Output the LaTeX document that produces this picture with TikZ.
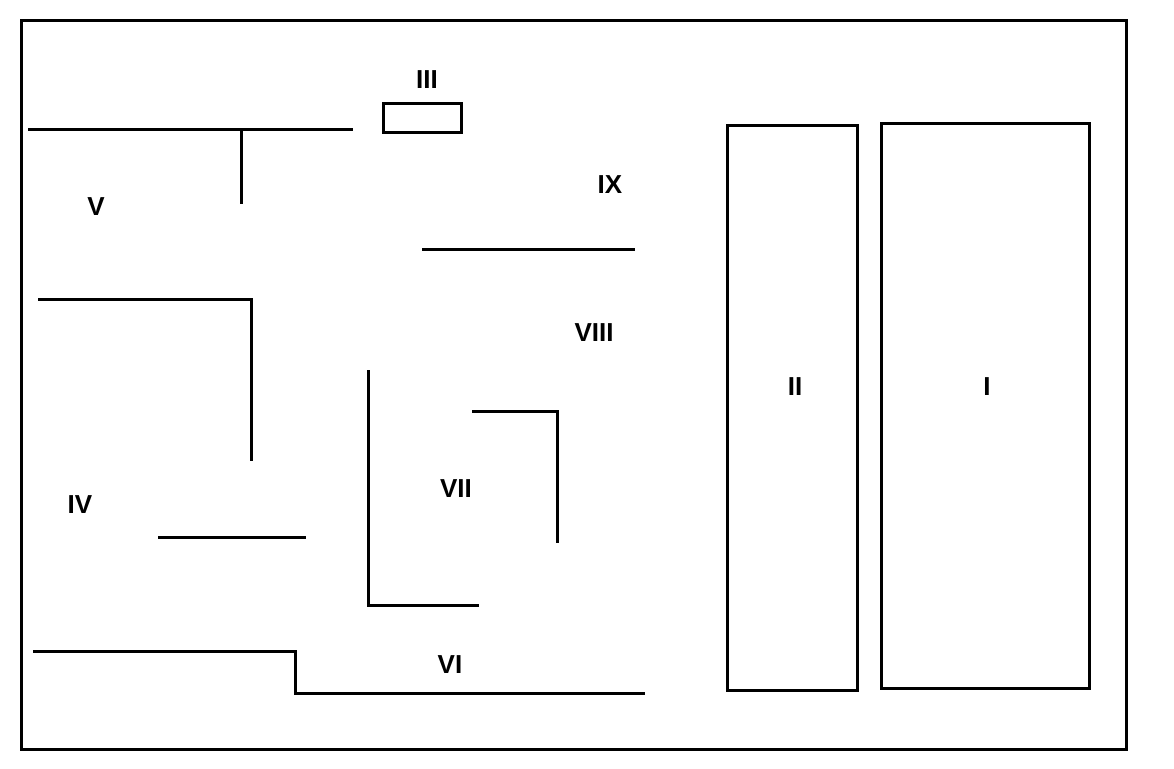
\documentclass[tikz,border=0pt]{standalone}
\usepackage{fontspec}
\setmainfont{Liberation Sans}
\begin{document}
\begin{tikzpicture}[x=1pt,y=-1pt,
  wall/.style={line width=3pt,line cap=butt,line join=miter},
  lbl/.style={font=\fontsize{26}{30}\selectfont\bfseries,inner sep=0pt,anchor=center}]
\useasboundingbox (0,0) rectangle (1174,768);
% outer frame
\draw[wall] (21,21) rectangle (1126,749);
% walls
\draw[wall] (28,129) -- (353,129);
\draw[wall] (241,129) -- (241,204);
\draw[wall] (383.5,103.5) rectangle (461,132.5);
\draw[wall] (422,249) -- (635,249);
\draw[wall] (38,299) -- (251,299) -- (251,461);
\draw[wall] (368,370) -- (368,605) -- (479,605);
\draw[wall] (472,411) -- (557,411) -- (557,543);
\draw[wall] (158,537) -- (306,537);
\draw[wall] (33,651) -- (295,651) -- (295,693) -- (645,693);
\draw[wall] (727.5,125.5) rectangle (857,690.5);
\draw[wall] (881.5,123.5) rectangle (1089,688.5);
% labels
\node[lbl] (l1) at (987,387) {I};
\node[lbl] (l2) at (795,387) {II};
\node[lbl] (l3) at (427,80) {III};
\node[lbl] (l4) at (80,505) {IV};
\node[lbl] (l5) at (96,207) {V};
\node[lbl] (l6) at (450,665) {VI};
\node[lbl] (l7) at (456,489) {VII};
\node[lbl] (l8) at (594,333) {VIII};
\node[lbl] (l9) at (610,185) {IX};
\end{tikzpicture}
\end{document}
